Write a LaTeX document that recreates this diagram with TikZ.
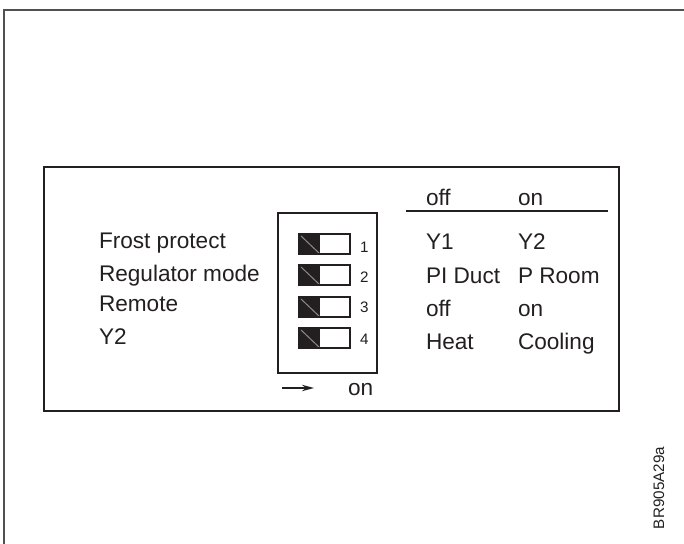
\documentclass[tikz,border=0pt]{standalone}
\usepackage{fontspec}
\setmainfont{Liberation Sans}
\usetikzlibrary{arrows.meta, positioning}
\definecolor{cink}{HTML}{231F20}
\definecolor{cframe}{HTML}{505050}
\definecolor{cgrey}{HTML}{8A8A8A}
\tikzset{
  every picture/.style={line width=1pt},
  lbl/.style={font=\fontsize{11.3}{13}\selectfont, text=cink, anchor=base west, inner sep=0pt},
  num/.style={font=\fontsize{7.6}{9}\selectfont, text=cink, anchor=base west, inner sep=0pt},
  frame/.style={draw=cink, line width=1.2pt},
  swbox/.style={draw=cink, line width=0.8pt},
  arrow/.style={-{Stealth[length=6pt, width=3.2pt]}, draw=cink, line width=0.8pt},
}

\begin{document}
\begin{tikzpicture}[x=0.5pt, y=-0.5pt]
  \useasboundingbox (0,0) rectangle (684,544);

  % ---- outer frame (top and left only)
  \draw[cframe, line width=1pt] (3.5,544) -- (3.5,10.5) -- (684,10.5);

  % ---- panel
  \draw[frame] (44,167) rectangle (619,411);

  % ---- left labels
  \foreach \y/\t/\n in {249/{Frost protect}/frost, 282/{Regulator mode}/mode,
                        312/{Remote}/remote, 345/{Y2}/ytwo}
    { \node[lbl] (\n) at (98,\y) {\t}; }

  % ---- DIP switch
  \draw[frame] (278,213) rectangle (377,373);
  \foreach \y/\k/\b in {234/1/253, 265/2/283, 297/3/313, 328/4/345}
    { \fill[cink] (299,\y) rectangle (320,\y+20);
      \draw[cgrey, line width=0.5pt] (301,\y+2) -- (320,\y+20);
      \draw[swbox] (299,\y) rectangle (350,\y+20);
      \node[num] (sw\k) at (359,\b) {\k}; }

  \coordinate (arrfrom) at (282,388);
  \coordinate (arrto) at (314,388);
  \draw[arrow] (arrfrom) -- (arrto);
  \node[lbl] (dipon) at (347,395) {on};

  % ---- settings table
  \node[lbl] (hoff) at (425,205.5) {off};
  \node[lbl] (hon) at (517,205.5) {on};
  \coordinate (rulel) at (406,211);
  \coordinate (ruler) at (608,211);
  \draw[cink, line width=0.8pt] (rulel) -- (ruler);
  \foreach \y/\a/\b/\n in {250/{Y1}/{Y2}/a, 284/{PI Duct}/{P Room}/b,
                           317/{off}/{on}/c, 350/{Heat}/{Cooling}/d}
    { \node[lbl] (off\n) at (425,\y) {\a};
      \node[lbl] (on\n) at (517,\y) {\b}; }

  % ---- drawing code
  \node[num, rotate=90] (code) at (664,530) {BR905A29a};
\end{tikzpicture}
\end{document}
